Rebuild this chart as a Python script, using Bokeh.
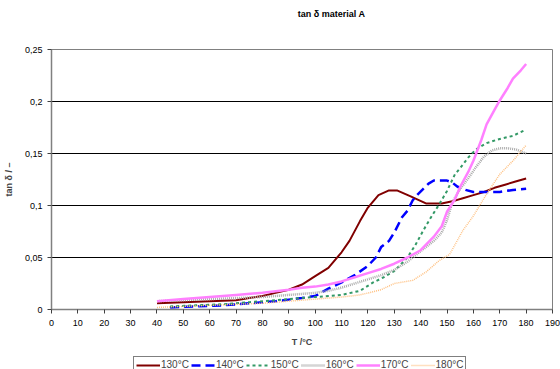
from bokeh.plotting import figure
from bokeh.layouts import column
from bokeh.models import Range1d, Legend, LegendItem, CustomJSTickFormatter, FixedTicker, Label
from bokeh.embed import file_html
from bokeh.resources import INLINE

series_names = ["130°C", "140°C", "150°C", "160°C", "170°C", "180°C"]

x130 = [40, 50, 60, 70, 75, 80, 85, 90, 95, 100, 105, 110, 113, 117, 120, 124, 128, 131, 136, 142, 148, 152, 156, 160, 164, 168, 172, 176, 180]
y130 = [0.006, 0.007, 0.008, 0.009, 0.011, 0.013, 0.016, 0.019, 0.024, 0.032, 0.040, 0.055, 0.066, 0.085, 0.098, 0.110, 0.1145, 0.1145, 0.109, 0.102, 0.102, 0.104, 0.107, 0.110, 0.113, 0.117, 0.120, 0.123, 0.126]

x140 = [45, 55, 65, 75, 80, 85, 95, 100, 105, 110, 115, 120, 123, 125, 128, 130, 133, 135, 137, 139, 141, 143, 145, 150, 152, 154, 157, 160, 165, 170, 175, 180]
y140 = [0.002, 0.003, 0.004, 0.006, 0.007, 0.008, 0.011, 0.013, 0.020, 0.026, 0.033, 0.042, 0.050, 0.060, 0.066, 0.074, 0.089, 0.095, 0.105, 0.111, 0.116, 0.121, 0.124, 0.124, 0.122, 0.118, 0.115, 0.113, 0.113, 0.113, 0.115, 0.116]

x150 = [45, 55, 65, 75, 85, 95, 105, 110, 117, 122, 126, 130, 135, 138, 141, 144, 147, 150, 153, 155, 158, 161, 165, 170, 175, 180]
y150 = [0.003, 0.004, 0.005, 0.007, 0.009, 0.011, 0.013, 0.014, 0.018, 0.026, 0.031, 0.037, 0.050, 0.062, 0.076, 0.089, 0.101, 0.114, 0.130, 0.136, 0.146, 0.154, 0.160, 0.164, 0.167, 0.173]

x160 = [40, 50, 60, 70, 80, 90, 100, 105, 110, 115, 120, 125, 130, 135, 140, 145, 148, 150, 152, 155, 158, 161, 164, 167, 170, 173, 176, 180]
y160 = [0.008, 0.009, 0.010, 0.011, 0.012, 0.014, 0.016, 0.018, 0.021, 0.025, 0.029, 0.033, 0.038, 0.046, 0.056, 0.066, 0.074, 0.086, 0.103, 0.116, 0.126, 0.137, 0.147, 0.153, 0.155, 0.155, 0.154, 0.150]

x170 = [40, 50, 60, 70, 80, 90, 95, 100, 105, 110, 115, 120, 125, 130, 135, 140, 145, 148, 150, 153, 155, 158, 160, 163, 165, 168, 170, 173, 175, 178, 180]
y170 = [0.008, 0.010, 0.012, 0.014, 0.016, 0.019, 0.021, 0.022, 0.024, 0.027, 0.031, 0.035, 0.039, 0.044, 0.050, 0.057, 0.070, 0.080, 0.094, 0.106, 0.118, 0.132, 0.143, 0.163, 0.178, 0.192, 0.201, 0.213, 0.222, 0.230, 0.236]

x180 = [40, 50, 60, 70, 80, 90, 100, 110, 117, 125, 130, 137, 142, 147, 151, 156, 160, 165, 170, 175, 180]
y180 = [0.002, 0.003, 0.004, 0.005, 0.006, 0.008, 0.010, 0.012, 0.014, 0.019, 0.025, 0.028, 0.036, 0.047, 0.053, 0.076, 0.090, 0.111, 0.130, 0.143, 0.158]

x_ticks = list(range(0, 191, 10))
y_ticks = [0, 0.05, 0.1, 0.15, 0.2, 0.25]
title_text = "tan δ material A"

FONT = "Liberation Sans"

styles = [
    dict(color="#800000", line_width=2, line_dash="solid"),
    dict(color="#0000FF", line_width=2.5, line_dash="9 5"),
    dict(color="#339966", line_width=2, line_dash="3 3"),
    dict(color="#ABABAB", line_width=2.5, line_dash="1 1"),
    dict(color="#FF80FF", line_width=2.5, line_dash="solid"),
    dict(color="#FFC080", line_width=1.5, line_dash="1 1"),
]
xs = [x130, x140, x150, x160, x170, x180]
ys = [y130, y140, y150, y160, y170, y180]


def strip(h):
    f = figure(width=560, height=h, output_backend="svg", toolbar_location=None,
               x_range=Range1d(-1000, -999), y_range=Range1d(-1000, -999),
               x_axis_location=None, y_axis_location=None,
               min_border_left=0, min_border_right=0, min_border_top=0, min_border_bottom=0)
    f.grid.visible = False
    f.outline_line_color = None
    f.border_fill_color = "white"
    f.background_fill_color = "white"
    return f


# title strip
tt = strip(26)
tt.add_layout(Label(x=280, y=13, x_units="screen", y_units="screen", text=title_text,
                    text_align="center", text_baseline="middle", text_font=FONT,
                    text_font_size="9px", text_font_style="bold", text_color="black"))

# main chart
p = figure(frame_width=501, frame_height=260, output_backend="svg", toolbar_location=None,
           x_range=Range1d(0, 190), y_range=Range1d(0, 0.25),
           min_border_left=48, min_border_right=11, min_border_top=23, min_border_bottom=43)

for xx, yy, st in zip(xs, ys, styles):
    p.line(xx, yy, line_color=st["color"], line_width=st["line_width"], line_dash=st["line_dash"])

p.xaxis.ticker = FixedTicker(ticks=x_ticks)
p.yaxis.ticker = FixedTicker(ticks=y_ticks)
p.yaxis.formatter = CustomJSTickFormatter(code="""
var s = tick.toFixed(2).replace(/0+$/, '').replace(/\\.$/, '');
return s.replace('.', ',');
""")
p.xaxis.axis_label = "T /°C"
p.yaxis.axis_label = "tan δ / –"
for ax in (p.xaxis[0], p.yaxis[0]):
    ax.axis_label_text_font = FONT
    ax.axis_label_text_font_size = "9px"
    ax.axis_label_text_font_style = "bold"
    ax.major_label_text_font = FONT
    ax.major_label_text_font_size = "9px"
    ax.major_label_text_color = "black"
    ax.axis_line_color = "#808080"
    ax.axis_line_width = 1.5
    ax.major_tick_line_color = "#404040"
    ax.major_tick_out = 4
    ax.major_tick_in = 0
    ax.minor_tick_line_color = None
p.xaxis.major_label_standoff = 6
p.xaxis.axis_label_standoff = 8
p.yaxis.axis_label_standoff = 8

p.xgrid.grid_line_color = None
p.ygrid.grid_line_color = "black"
p.ygrid.grid_line_width = 1
p.outline_line_color = "#808080"
p.outline_line_width = 1
p.background_fill_color = "white"
p.border_fill_color = "white"

# legend strip below the chart (its lines carry the same data, out of its view)
lg = strip(17)
items = []
for name, xx, yy, st in zip(series_names, xs, ys, styles):
    r = lg.line(xx, yy, line_color=st["color"], line_width=st["line_width"], line_dash=st["line_dash"])
    items.append(LegendItem(label=name, renderers=[r]))

legend = Legend(items=items, orientation="horizontal", location=(82, -4),
                label_text_font=FONT, label_text_font_size="10px",
                glyph_width=24, glyph_height=8, label_standoff=1, spacing=2,
                padding=2, margin=0, border_line_color="black", border_line_width=1,
                label_height=9, background_fill_color="white", background_fill_alpha=1)
lg.add_layout(legend)

layout = column(tt, p, lg, spacing=0)
open("out.html", "w").write(file_html(layout, INLINE))
